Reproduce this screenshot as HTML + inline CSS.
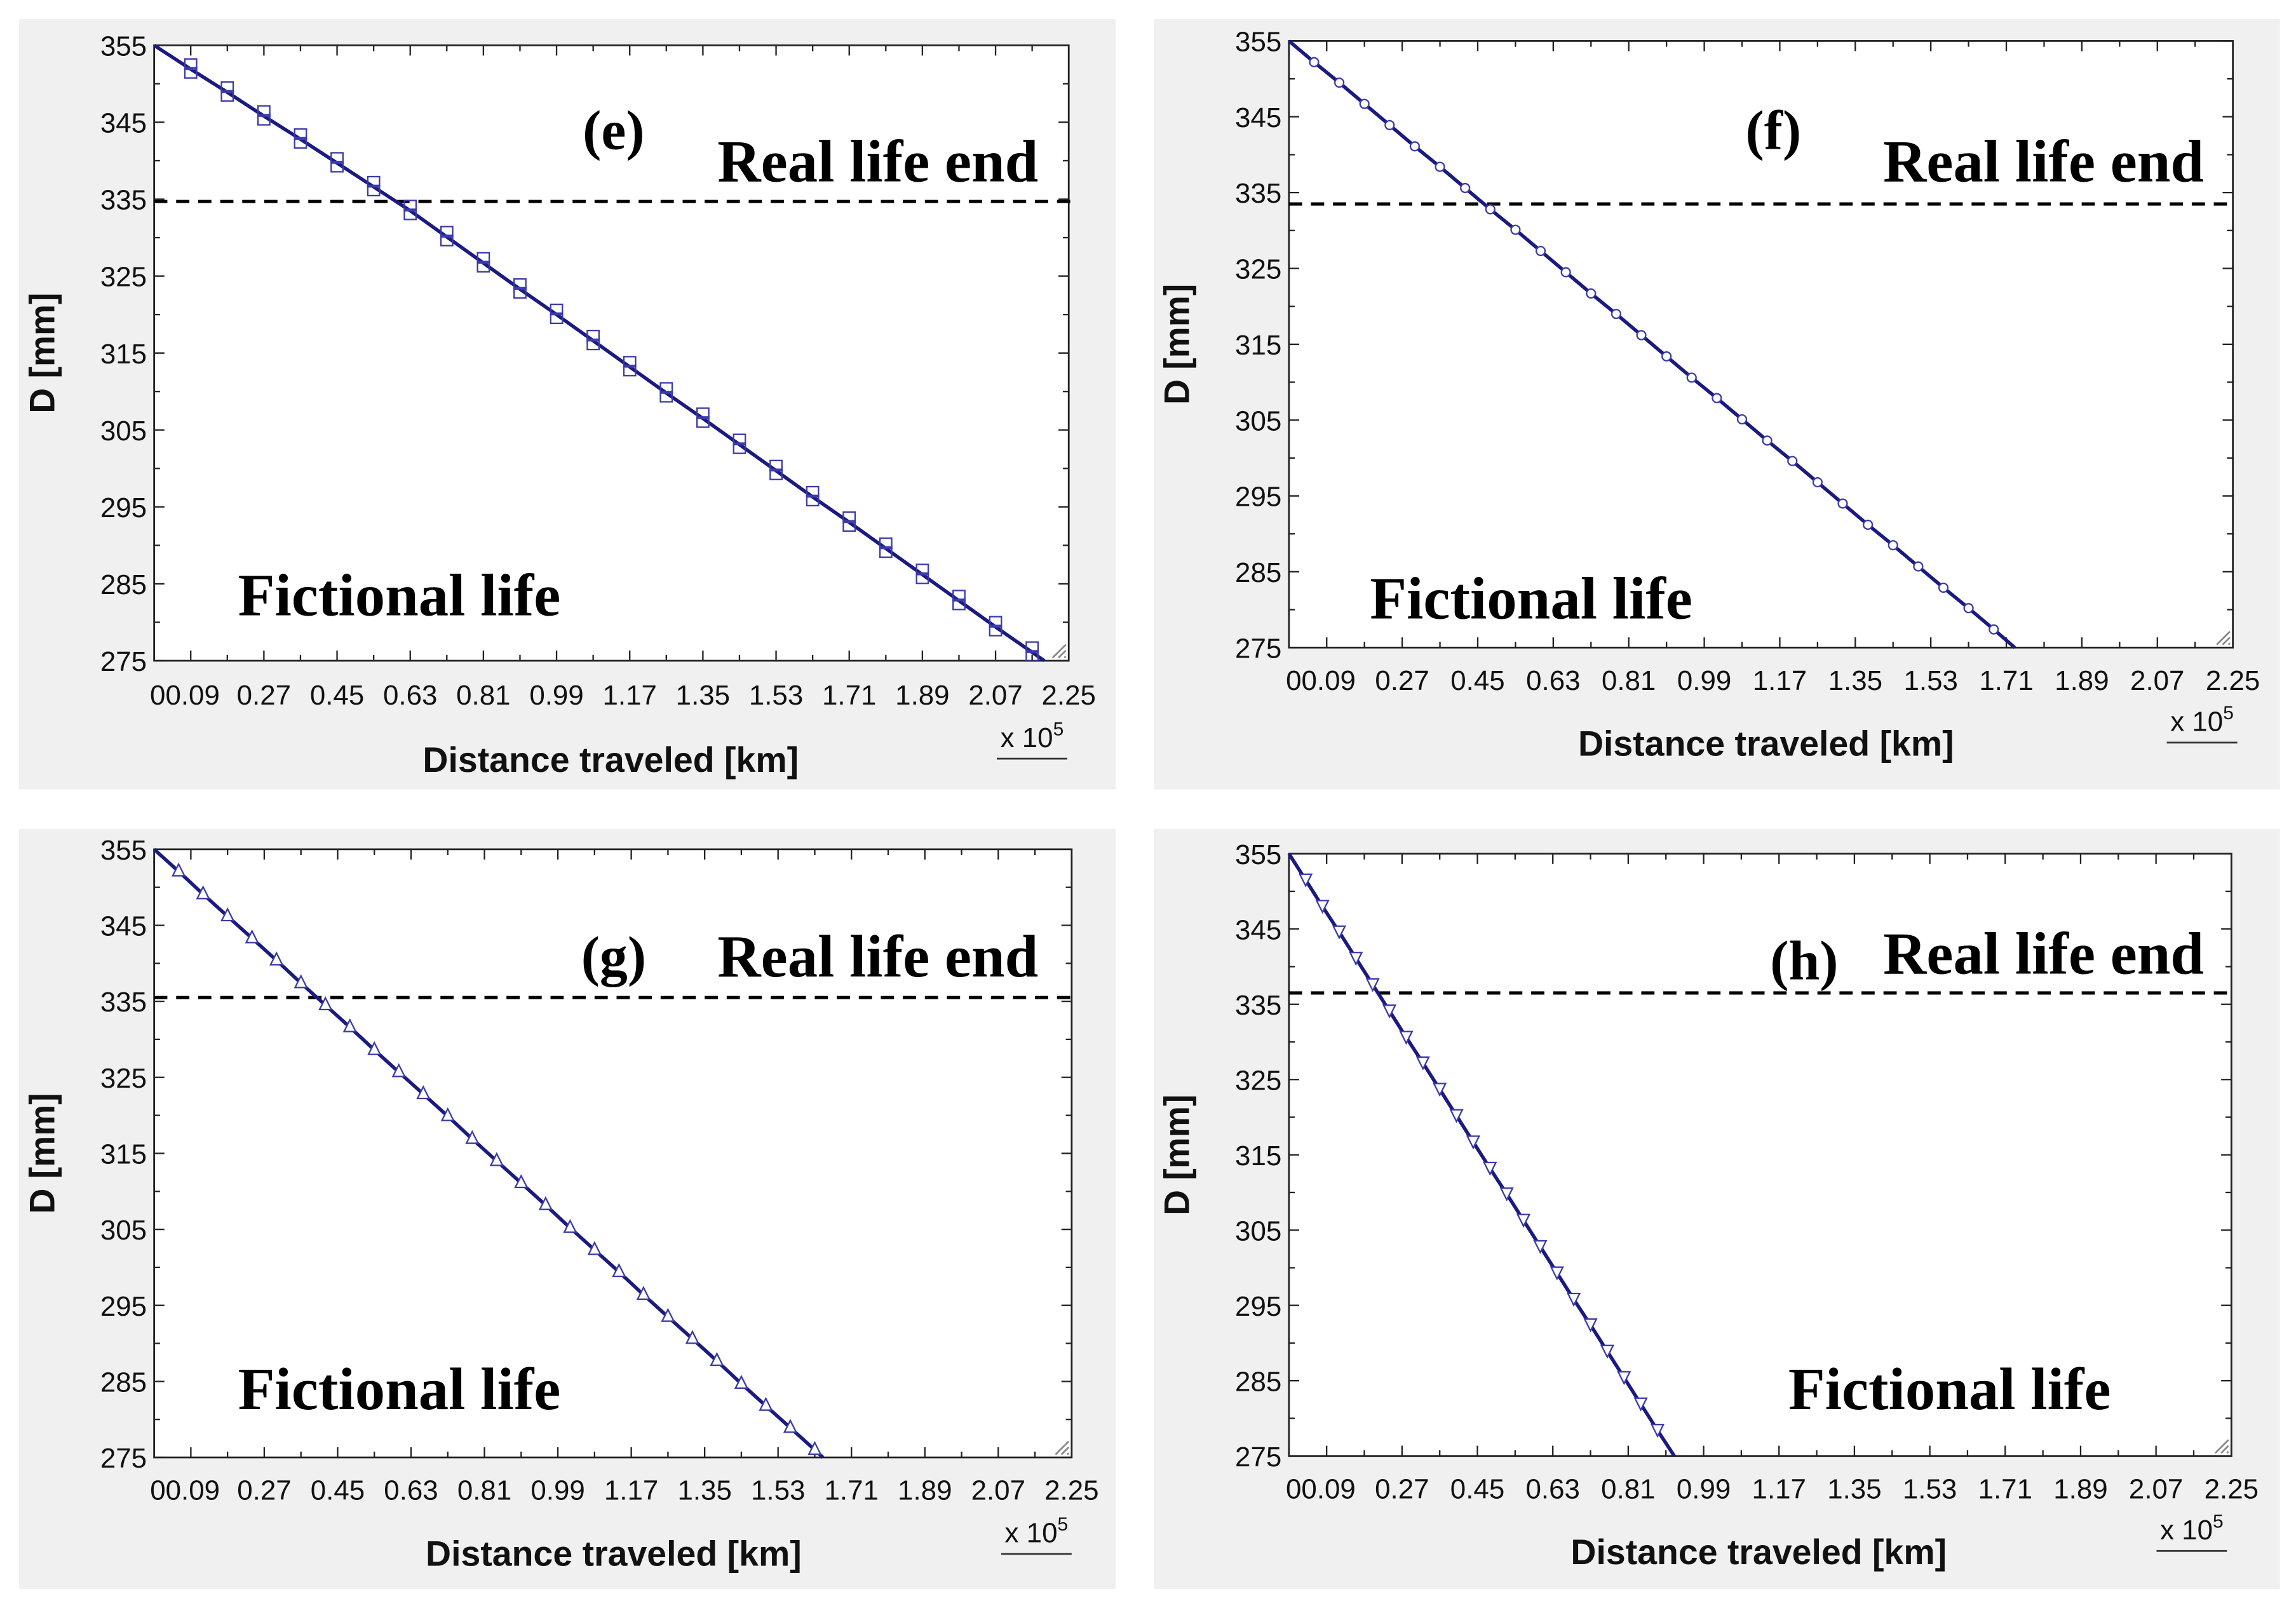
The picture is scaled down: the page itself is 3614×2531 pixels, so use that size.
<!DOCTYPE html>
<html><head><meta charset="utf-8"><style>
html,body{margin:0;padding:0;background:#fff;}
svg{display:block;}
.tick{font-family:"Liberation Sans",sans-serif;font-size:19px;fill:#111;}
.ax{font-family:"Liberation Sans",sans-serif;font-size:24px;font-weight:bold;fill:#111;}
.ser{font-family:"Liberation Serif",serif;font-weight:bold;fill:#000;}
</style></head><body>
<svg id="fig" width="3614" height="2531" viewBox="0 0 1564 1100" preserveAspectRatio="none" xmlns="http://www.w3.org/2000/svg"></svg>
<script>
const yTicks=[355,345,335,325,315,305,295,285,275];
const xTickLabels=["0.09","0.27","0.45","0.63","0.81","0.99","1.17","1.35","1.53","1.71","1.89","2.07","2.25"];
const eX=[0,0.09,0.18,0.27,0.36,0.45,0.54,0.63,0.72,0.81,0.9,0.99,1.08,1.17,1.26,1.35,1.44,1.53,1.62,1.71,1.8,1.89,1.98,2.07,2.16,2.19];
const eY=[355,351.9,348.9,345.8,342.8,339.7,336.6,333.5,330.1,326.7,323.3,320.0,316.6,313.2,309.8,306.5,303.1,299.7,296.3,293.0,289.6,286.2,282.8,279.4,276.1,275];
const fX=[0,0.06,0.12,0.18,0.24,0.30,0.36,0.42,0.48,0.54,0.60,0.66,0.72,0.78,0.84,0.90,0.96,1.02,1.08,1.14,1.20,1.26,1.32,1.38,1.44,1.50,1.56,1.62,1.68,1.73];
const fY=[355,352.2,349.5,346.7,343.9,341.1,338.4,335.6,332.8,330.1,327.3,324.5,321.7,319.0,316.2,313.4,310.6,307.9,305.1,302.3,299.6,296.8,294.0,291.2,288.5,285.7,282.9,280.2,277.4,275];
const gX=[0,0.06,0.12,0.18,0.24,0.30,0.36,0.42,0.48,0.54,0.60,0.66,0.72,0.78,0.84,0.90,0.96,1.02,1.08,1.14,1.20,1.26,1.32,1.38,1.44,1.50,1.56,1.62,1.64];
const gY=[355,352.1,349.1,346.2,343.3,340.4,337.4,334.5,331.6,328.6,325.7,322.8,319.9,316.9,314.0,311.1,308.2,305.2,302.3,299.4,296.4,293.5,290.6,287.7,284.7,281.8,278.9,276.0,275];
const hX=[0,0.04,0.08,0.12,0.16,0.20,0.24,0.28,0.32,0.36,0.40,0.44,0.48,0.52,0.56,0.60,0.64,0.68,0.72,0.76,0.80,0.84,0.88,0.92];
const hY=[355,351.5,348.0,344.6,341.1,337.6,334.1,330.6,327.2,323.7,320.2,316.7,313.2,309.8,306.3,302.8,299.3,295.8,292.4,288.9,285.4,281.9,278.4,275];
const refLines=[334.7,333.5,335.5,336.5];

const NS="http://www.w3.org/2000/svg";
const svg=document.getElementById('fig');
function mk(tag,attrs,parent){const e=document.createElementNS(NS,tag);for(const k in attrs)e.setAttribute(k,attrs[k]);(parent||svg).appendChild(e);return e;}

const panels=[
 {id:'e',bg:[13,13,747,527],f:[105,31,728,452],X:eX,Y:eY,ref:refLines[0],mark:'sq',lbl:[418,102],real:[598,124],fic:[272,421],labY:475,xt:[416,520],x5:[703,505]},
 {id:'f',bg:[786,13,767,527],f:[878,28,1521,443],X:fX,Y:fY,ref:refLines[1],mark:'ci',lbl:[1208,102],real:[1392,124],fic:[1043,423],labY:465,xt:[1203,509],x5:[1500,494]},
 {id:'g',bg:[13,567,747,520],f:[105,581,730,997],X:gX,Y:gY,ref:refLines[2],mark:'tu',lbl:[418,667],real:[598,668],fic:[272,964],labY:1019,xt:[418,1063],x5:[706,1049]},
 {id:'h',bg:[786,567,767,520],f:[878,584,1520,996],X:hX,Y:hY,ref:refLines[3],mark:'td',lbl:[1229,670],real:[1392,666],fic:[1328,964],labY:1018,xt:[1198,1062],x5:[1493,1047]}
];

panels.forEach(p=>{
 const g=mk('g',{});
 
 
 const bg=mk('rect',{x:p.bg[0],y:p.bg[1],width:p.bg[2],height:p.bg[3],fill:'#f0f0f0'},g);
 
 
 const [L,T,R,B]=p.f;
 const fr=mk('rect',{x:L,y:T,width:R-L,height:B-T,fill:'#fff',stroke:'#222','stroke-width':1.2},g);
 
 
 const xs=v=>L+(v/2.25)*(R-L);
 const ys=v=>B-(v-275)/80*(B-T);
 for(let v=275;v<=355;v+=5){
  const major=(v-275)%10===0;const len=major?7:4;
  mk('line',{x1:L,x2:L+len,y1:ys(v),y2:ys(v),stroke:'#222','stroke-width':1},g);
  mk('line',{x1:R,x2:R-len,y1:ys(v),y2:ys(v),stroke:'#222','stroke-width':1},g);
 }
 yTicks.forEach(v=>{
  const t=mk('text',{x:L-5,y:ys(v)+7,'text-anchor':'end',class:'tick'},g);t.textContent=v;
  
  
 });
 for(let i=0;i<=25;i++){
  const v=i*0.09;const major=i%2===1;const len=major?7:4;
  mk('line',{x1:xs(v),x2:xs(v),y1:B,y2:B-len,stroke:'#222','stroke-width':1},g);
  mk('line',{x1:xs(v),x2:xs(v),y1:T,y2:T+len,stroke:'#222','stroke-width':1},g);
 }
 xTickLabels.forEach((s,i)=>{
  const v=parseFloat(s);
  const t=mk('text',{x:xs(v)+(i===0?-4:0),y:p.labY+7,'text-anchor':'middle',class:'tick'},g);
  t.textContent=(i===0?'0':'')+s;
  
  
 });
 const rl=mk('line',{x1:L,x2:R+2,y1:ys(p.ref),y2:ys(p.ref),stroke:'#000','stroke-width':2.2,'stroke-dasharray':'9,6'},g);
 
 
 const pts=p.X.map((x,i)=>xs(x)+','+ys(p.Y[i])).join(' ');
 const pl=mk('polyline',{points:pts,fill:'none',stroke:'#1a1a80','stroke-width':2.4},g);
 
 
 p.X.forEach((x,i)=>{
  if(i===0||i===p.X.length-1)return;
  const cx=xs(x),cy=ys(p.Y[i]);let m;
  if(p.mark==='sq'){m=mk('g',{},g);
   mk('rect',{x:cx-4,y:cy-7,width:8,height:7,fill:'none',stroke:'#3a3aa8','stroke-width':1},m);
   mk('rect',{x:cx-4,y:cy-1,width:8,height:7,fill:'none',stroke:'#3a3aa8','stroke-width':1},m);}
  else if(p.mark==='ci'){m=mk('circle',{cx:cx,cy:cy,r:3,fill:'#fff',stroke:'#3a3aa8','stroke-width':1},g);}
  else if(p.mark==='tu'){m=mk('polygon',{points:`${cx-4},${cy+3} ${cx+4},${cy+3} ${cx},${cy-5}`,fill:'#fff',stroke:'#3a3aa8','stroke-width':1},g);}
  else {m=mk('polygon',{points:`${cx-4},${cy-4} ${cx+4},${cy-4} ${cx},${cy+4}`,fill:'#fff',stroke:'#3a3aa8','stroke-width':1},g);}
  
  
 });
 for(let k=0;k<3;k++){mk('line',{x1:R-3-k*4,y1:B-2,x2:R-2,y2:B-3-k*4,stroke:'#888','stroke-width':1.2},g);}
 const lt=mk('text',{x:p.lbl[0],y:p.lbl[1],'text-anchor':'middle',class:'ser','font-size':38},g);lt.textContent='('+p.id+')';
 
 
 const rt=mk('text',{x:p.real[0],y:p.real[1],'text-anchor':'middle',class:'ser','font-size':41},g);rt.textContent='Real life end';
 
 
 const ft=mk('text',{x:p.fic[0],y:p.fic[1],'text-anchor':'middle',class:'ser','font-size':41},g);ft.textContent='Fictional life';
 
 
 const xt=mk('text',{x:p.xt[0],y:p.xt[1]+8,'text-anchor':'middle',class:'ax'},g);xt.textContent='Distance traveled [km]';
 
 
 const yc=(T+B)/2;const yx=L-68;
 const yt=mk('text',{x:yx,y:yc,'text-anchor':'middle',class:'ax',transform:`rotate(-90 ${yx} ${yc})`},g);yt.textContent='D [mm]';
 
 
 const x5=mk('text',{x:p.x5[0],y:p.x5[1]+6,'text-anchor':'middle',class:'tick'},g);
 x5.innerHTML='x 10<tspan dy="-8" font-size="13">5</tspan>';
 
 
 mk('line',{x1:p.x5[0]-24,x2:p.x5[0]+24,y1:p.x5[1]+14,y2:p.x5[1]+14,stroke:'#333','stroke-width':1.2},g);
});
</script>
</body></html>
